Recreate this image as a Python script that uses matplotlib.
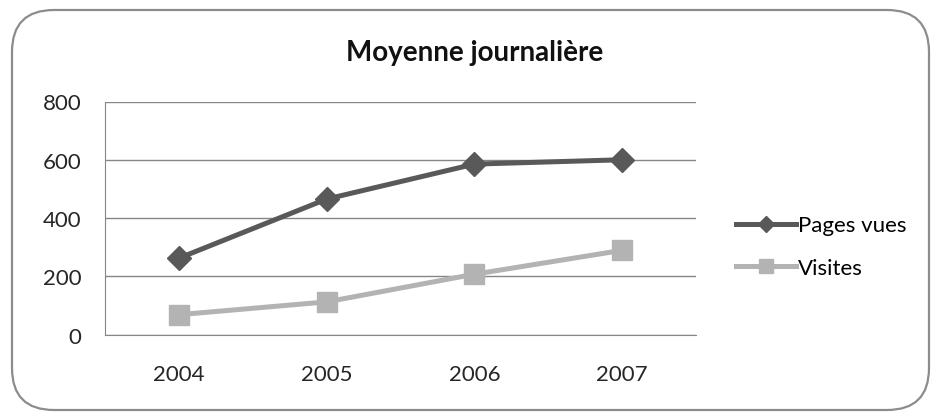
import matplotlib.pyplot as plt
from matplotlib.patches import FancyBboxPatch

plt.rcParams['font.family'] = ['Lato', 'DejaVu Sans']

years = ['2004', '2005', '2006', '2007']
pages_vues = [262, 465, 585, 600]
visites = [68, 112, 207, 289]

W, H = 932, 414
fig = plt.figure(figsize=(W / 100, H / 100), dpi=100)
ax = fig.add_axes([105 / W, 1 - 335.5 / H, 591 / W, 233 / H])

# rounded chart border
border = FancyBboxPatch((12 / W, 1 - 411 / H), 917 / W, 400 / H,
                        boxstyle='round,pad=0,rounding_size=0.045',
                        transform=fig.transFigure, fill=False,
                        edgecolor='#8c8c8c', linewidth=1.6, mutation_aspect=W / H)
fig.patches.append(border)

x = range(len(years))
ax.plot(x, pages_vues, color='#595959', linewidth=3.6, marker='D', markersize=12,
        label='Pages vues')
ax.plot(x, visites, color='#b3b3b3', linewidth=3.6, marker='s', markersize=14,
        label='Visites')

ax.set_xlim(-0.5, 3.5)
ax.set_ylim(0, 800)
ax.set_yticks([0, 200, 400, 600, 800])
ax.set_xticks(list(x))
ax.set_xticklabels(years)
ax.yaxis.grid(True, color='#868686', linewidth=1)
ax.set_axisbelow(True)
for s in ['top', 'right']:
    ax.spines[s].set_visible(False)
for s in ['left', 'bottom']:
    ax.spines[s].set_color('#868686')
ax.tick_params(length=0, labelsize=16, colors='#262626')
ax.tick_params(axis='x', pad=21)
ax.tick_params(axis='y', pad=17)

fig.text(475 / W, 1 - 61 / H, 'Moyenne journalière', ha='center', va='baseline',
         fontsize=20, fontweight='bold', color='#111111')

fig.legend(loc='center left', bbox_to_anchor=(736 / W, 1 - 247.5 / H),
           frameon=False, borderpad=0, borderaxespad=0, markerscale=0.72,
           fontsize=16, handlelength=2.7, handletextpad=0.1, labelspacing=1.0)

fig.savefig('out.png', dpi=100)
